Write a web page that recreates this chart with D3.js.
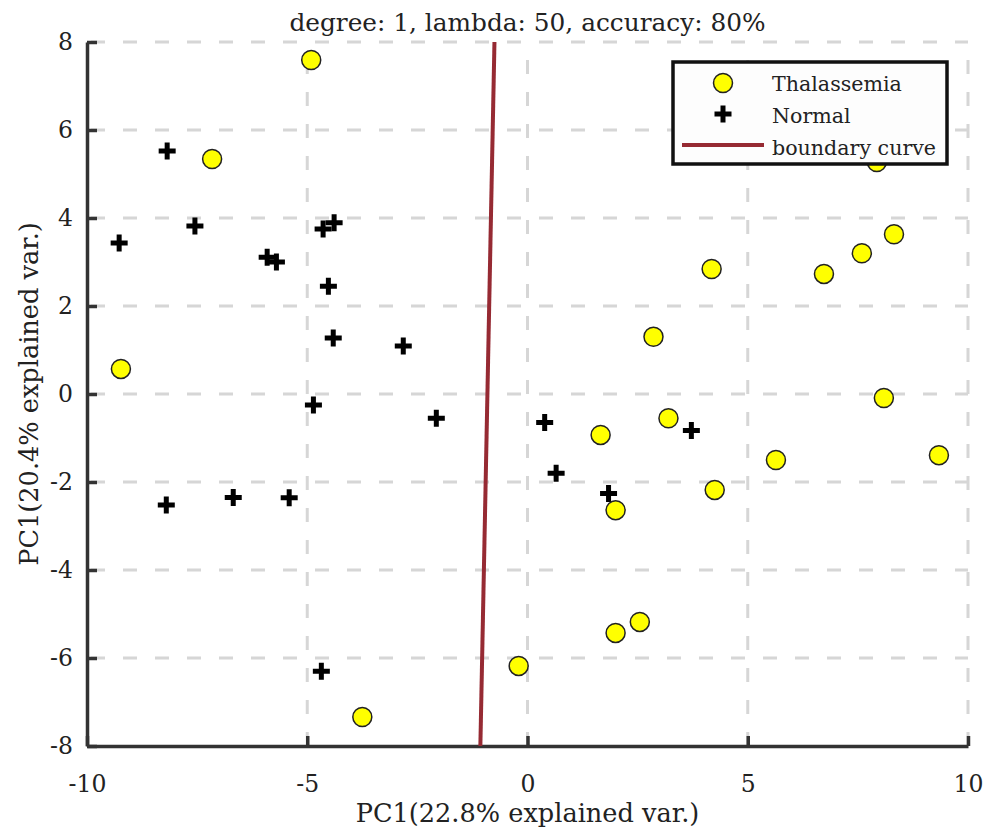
<!DOCTYPE html>
<html>
<head>
<meta charset="utf-8">
<script src="https://cdn.jsdelivr.net/npm/d3@7"></script>
<style>
  body { margin: 0; background: #fff; }
  svg { display: block; }
  text { font-family: "DejaVu Serif", serif; fill: #222; }
</style>
</head>
<body>
<div id="chart"></div>
<script>
  'use strict';

  // Thalassemia samples (yellow circles)
  var thalX = [-4.91, -7.16, -9.23, -3.75, -0.20, 2.00, 2.55, 1.66, 3.20, 2.00,
               4.25, 5.64, 9.34, 8.09, 2.86, 4.18, 6.73, 7.59, 8.32, 7.93];
  var thalY = [7.59, 5.34, 0.57, -7.34, -6.18, -5.43, -5.18, -0.93, -0.55, -2.64,
               -2.18, -1.50, -1.39, -0.09, 1.30, 2.84, 2.73, 3.20, 3.63, 5.27];

  // Normal samples (black crosses)
  var normX = [-8.18, -9.27, -7.55, -5.91, -5.70, -4.64, -4.39, -4.52, -4.41, -2.82,
               -4.86, -2.07, -8.20, -6.68, -5.41, -4.68, 0.39, 0.65, 1.84, 3.72];
  var normY = [5.52, 3.43, 3.82, 3.11, 3.00, 3.75, 3.89, 2.45, 1.27, 1.09,
               -0.25, -0.55, -2.52, -2.35, -2.36, -6.30, -0.65, -1.80, -2.26, -0.83];

  // boundary curve end points
  var boundaryX = [-0.75, -1.07];
  var boundaryY = [8, -8];

  var xTicks = [-10, -5, 0, 5, 10];
  var yTicks = [-8, -6, -4, -2, 0, 2, 4, 6, 8];
  var legendLabels = ['Thalassemia', 'Normal', 'boundary curve'];

  (function () {
    var width = 998,
        height = 835,
        plotLeft = 87, plotRight = 968, plotTop = 42, plotBottom = 746;

    var svg = d3.select('#chart').append('svg')
      .attr('width', width)
      .attr('height', height);

    var x = d3.scaleLinear().domain([-10, 10]).range([plotLeft, plotRight]);
    var y = d3.scaleLinear().domain([-8, 8]).range([plotBottom, plotTop]);
    var fmt = function (d) { return String(d); };

    // grid
    var grid = svg.append('g')
      .attr('stroke', '#d6d6d6')
      .attr('stroke-width', 3)
      .attr('stroke-dasharray', '14,18');

    grid.selectAll('.vg')
      .data(xTicks.filter(function (d) { return d > -10; }))
      .enter().append('line')
        .attr('x1', function (d) { return x(d); })
        .attr('x2', function (d) { return x(d); })
        .attr('y1', plotBottom)
        .attr('y2', plotTop);

    grid.selectAll('.hg')
      .data(yTicks.filter(function (d) { return d > -8; }))
      .enter().append('line')
        .attr('x1', plotLeft + 4)
        .attr('x2', plotRight)
        .attr('y1', function (d) { return y(d); })
        .attr('y2', function (d) { return y(d); });

    // axes
    var xAxis = svg.append('g')
      .attr('transform', 'translate(0,' + plotBottom + ')')
      .call(d3.axisBottom(x).tickValues(xTicks).tickFormat(fmt)
        .tickSizeInner(-10).tickSizeOuter(0).tickPadding(29));
    var yAxis = svg.append('g')
      .attr('transform', 'translate(' + plotLeft + ',0)')
      .call(d3.axisLeft(y).tickValues(yTicks).tickFormat(fmt)
        .tickSizeInner(-10).tickSizeOuter(0).tickPadding(14));

    [xAxis, yAxis].forEach(function (ax) {
      ax.attr('font-family', null).attr('font-size', null);
      ax.select('.domain').attr('stroke', '#333').attr('stroke-width', 3.5);
      ax.selectAll('.tick line').attr('stroke', '#333').attr('stroke-width', 3.5);
      ax.selectAll('.tick text')
        .style('font-size', '23.5px')
        .attr('fill', '#222');
    });

    // boundary
    svg.append('line')
      .attr('x1', x(boundaryX[0])).attr('y1', y(boundaryY[0]))
      .attr('x2', x(boundaryX[1])).attr('y2', y(boundaryY[1]))
      .attr('stroke', '#962a33')
      .attr('stroke-width', 4);

    var crossPath = 'M-8.5,0H8.5M0,-8.5V8.5';

    // normal crosses
    svg.append('g').selectAll('path')
      .data(d3.range(normX.length))
      .enter().append('path')
        .attr('d', crossPath)
        .attr('transform', function (i) {
          return 'translate(' + x(normX[i]) + ',' + y(normY[i]) + ')';
        })
        .attr('stroke', '#000')
        .attr('stroke-width', 5);

    // thalassemia circles
    svg.append('g').selectAll('circle')
      .data(d3.range(thalX.length))
      .enter().append('circle')
        .attr('cx', function (i) { return x(thalX[i]); })
        .attr('cy', function (i) { return y(thalY[i]); })
        .attr('r', 9.5)
        .attr('fill', '#ffff00')
        .attr('stroke', '#222')
        .attr('stroke-width', 1.5);

    // title and axis labels
    svg.append('text')
      .attr('x', x(0))
      .attr('y', 31)
      .attr('text-anchor', 'middle')
      .style('font-size', '24.8px')
      .text('degree: 1, lambda: 50, accuracy: 80%');

    svg.append('text')
      .attr('x', x(0))
      .attr('y', 822)
      .attr('text-anchor', 'middle')
      .style('font-size', '25.6px')
      .text('PC1(22.8% explained var.)');

    svg.append('text')
      .attr('transform', 'translate(38,' + y(0) + ') rotate(-90)')
      .attr('text-anchor', 'middle')
      .style('font-size', '25.6px')
      .text('PC1(20.4% explained var.)');

    // legend
    var legend = svg.append('g').attr('transform', 'translate(673,62)');
    legend.append('rect')
      .attr('width', 274)
      .attr('height', 102)
      .attr('fill', '#fdfdfd')
      .attr('stroke', '#111')
      .attr('stroke-width', 3.5);

    legend.append('circle')
      .attr('cx', 50).attr('cy', 21).attr('r', 9.5)
      .attr('fill', '#ffff00').attr('stroke', '#222').attr('stroke-width', 1.5);
    legend.append('path')
      .attr('d', crossPath)
      .attr('transform', 'translate(50,52)')
      .attr('stroke', '#000').attr('stroke-width', 5);
    legend.append('line')
      .attr('x1', 9).attr('x2', 91).attr('y1', 83).attr('y2', 83)
      .attr('stroke', '#962a33').attr('stroke-width', 4);

    legend.selectAll('.lbl')
      .data(legendLabels)
      .enter().append('text')
        .attr('x', 99)
        .attr('y', function (d, i) { return 29 + i * 32; })
        .style('font-size', '20.6px')
        .text(function (d) { return d; });
  })();
</script>
</body>
</html>
